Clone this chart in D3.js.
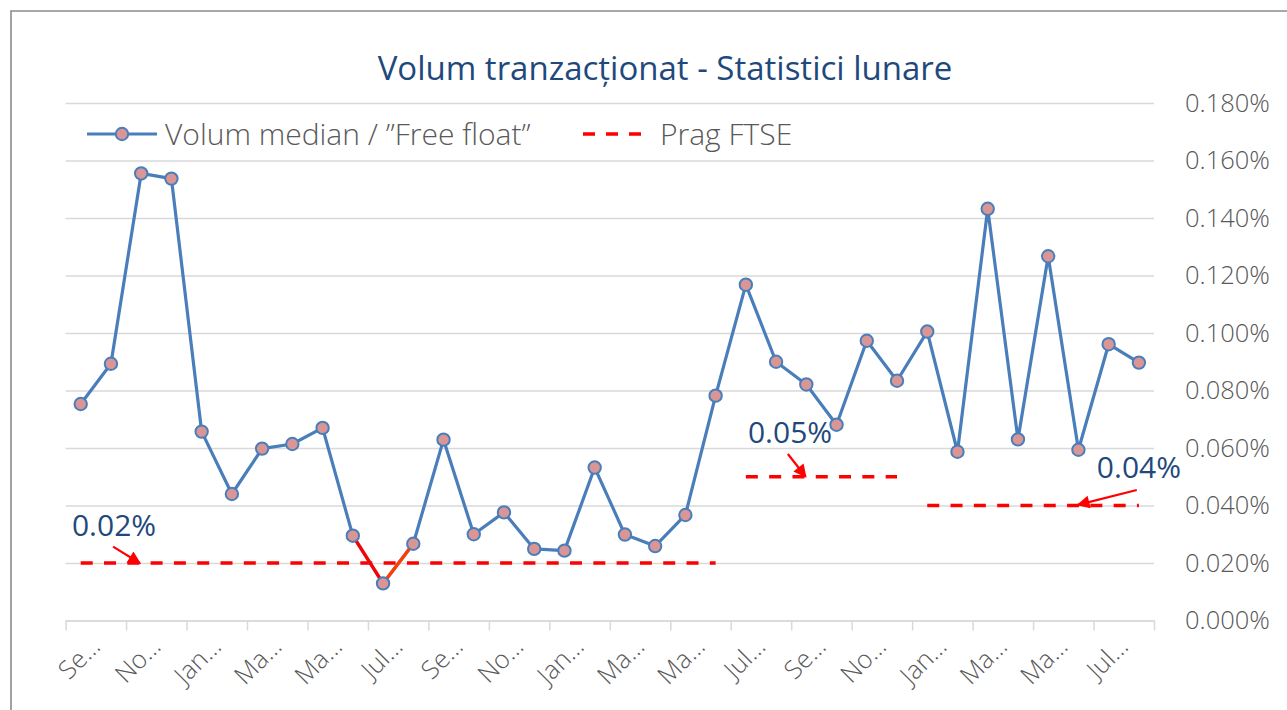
<!DOCTYPE html>
<html><head><meta charset="utf-8">
<script src="https://cdn.jsdelivr.net/npm/d3@7"></script>
<style>
html,body{margin:0;padding:0;background:#fff;}
svg{display:block;}
text{font-family:"Open Sans",sans-serif;font-weight:300;}
</style></head><body>
<svg id="chart" width="1287" height="710"></svg>
<script>
// ---------- DATA ----------
const months = ["Sep","Oct","Nov","Dec","Jan","Feb","Mar","Apr","May","Jun","Jul","Aug",
                "Sep","Oct","Nov","Dec","Jan","Feb","Mar","Apr","May","Jun","Jul","Aug",
                "Sep","Oct","Nov","Dec","Jan","Feb","Mar","Apr","May","Jun","Jul","Aug"];
const tickLabels = ["Se…","No…","Jan…","Ma…","Ma…","Jul…",
                    "Se…","No…","Jan…","Ma…","Ma…","Jul…",
                    "Se…","No…","Jan…","Ma…","Ma…","Jul…"];
// Volum median / "Free float" (in %)
const volumMedian = [0.0753,0.0893,0.1555,0.1537,0.0657,0.0440,0.0598,0.0614,0.0670,0.0295,0.0129,0.0267,
                     0.0629,0.0300,0.0376,0.0249,0.0243,0.0532,0.0299,0.0259,0.0367,0.0782,0.1168,0.0900,
                     0.0821,0.0681,0.0973,0.0834,0.1005,0.0587,0.1432,0.0630,0.1267,0.0594,0.0961,0.0897];
// Prag FTSE (in %)
const pragFTSE = [0.02,0.02,0.02,0.02,0.02,0.02,0.02,0.02,0.02,0.02,0.02,0.02,
                  0.02,0.02,0.02,0.02,0.02,0.02,0.02,0.02,0.02,0.02,0.05,0.05,
                  0.05,0.05,0.05,0.05,0.04,0.04,0.04,0.04,0.04,0.04,0.04,0.04];
// segments of the series drawn in highlight colours (below threshold)
const highlightSegments = [{from:9,to:10,color:"#FF0000"},{from:10,to:11,color:"#FF3D00"}];
const yTicks = [0,0.02,0.04,0.06,0.08,0.10,0.12,0.14,0.16,0.18];
// annotations: text at (cat, value), arrow from -> to in (cat, value)
const annotations = [
  {label:"0.02%", tc:-0.29, tv:0.0294, fc:1.07, fv:0.0257, ec:1.96, ev:0.0199},
  {label:"0.05%", tc:22.07, tv:0.0617, fc:23.39, fv:0.0579, ec:23.98, ev:0.0500},
  {label:"0.04%", tc:33.61, tv:0.0496, fc:34.93, fv:0.0454, ec:32.98, ev:0.0402}
];
const title = "Volum tranzacționat - Statistici lunare";
const legendNames = ["Volum median / ”Free float”","Prag FTSE"];

// ---------- LAYOUT ----------
const L = 65.6, R = 1154, T = 103, B = 620.5;
const blue = "#4A7EBB", marker = "#D99694", red = "#FF0000", dark = "#1F497D", grey = "#595959", grid = "#D9D9D9";

const svg = d3.select("#chart");
const xi = d3.scaleLinear().domain([0, months.length]).range([L, R]);
const cx = i => xi(i + 0.5);
const y = d3.scaleLinear().domain([0, 0.18]).range([B, T]);

// border
svg.append("path").attr("d", "M11,720 L11,11 L1300,11").attr("fill","none").attr("stroke","#8C8C8C").attr("stroke-width",1.6);

// gridlines
const gGrid = svg.append("g").attr("transform", `translate(${R},0)`)
  .call(d3.axisLeft(y).tickValues(yTicks).tickSize(R - L).tickFormat(""));
gGrid.select(".domain").remove();
gGrid.selectAll(".tick line").attr("stroke", grid).attr("stroke-width", 1.5);

// y labels (right)
const gY = svg.append("g").attr("transform", `translate(${R},0)`)
  .call(d3.axisRight(y).tickValues(yTicks).tickSize(0).tickPadding(31).tickFormat(d => d.toFixed(3) + "%"));
gY.select(".domain").remove();
gY.selectAll("text").attr("fill", grey).style("font-size","25.5px").style("font-family","'Open Sans',sans-serif").style("font-weight",300);

// x axis tick marks
const gX = svg.append("g").attr("transform", `translate(0,${B})`)
  .call(d3.axisBottom(xi).tickValues(d3.range(0, months.length + 1, 2)).tickSize(10).tickSizeOuter(0).tickFormat(""));
gX.select(".domain").attr("stroke", grid).attr("stroke-width", 1.5);
gX.selectAll(".tick line").attr("stroke", grid).attr("stroke-width", 1.5);

// x labels
svg.append("g").selectAll("text").data(tickLabels).join("text")
  .attr("transform", (d, k) => `translate(${cx(2 * k) + 21},648) rotate(-45)`)
  .attr("text-anchor", "end").attr("fill", grey).style("font-size", "25.5px")
  .text(d => d);

// FTSE threshold segments
const segs = [];
pragFTSE.forEach((v, i) => {
  if (i === 0 || v !== pragFTSE[i - 1]) segs.push({ v, start: i, end: i });
  else segs[segs.length - 1].end = i;
});
svg.append("g").selectAll("line").data(segs).join("line")
  .attr("x1", d => cx(d.start)).attr("x2", d => cx(d.end))
  .attr("y1", d => y(d.v)).attr("y2", d => y(d.v))
  .attr("stroke", red).attr("stroke-width", 3.5).attr("stroke-dasharray", "12,11.3");

// main line
const line = d3.line().x((d, i) => cx(i)).y(d => y(d));
svg.append("path").datum(volumMedian).attr("d", line)
  .attr("fill", "none").attr("stroke", blue).attr("stroke-width", 3.2).attr("stroke-linejoin", "round");
svg.append("g").selectAll("line").data(highlightSegments).join("line")
  .attr("x1", d => cx(d.from)).attr("y1", d => y(volumMedian[d.from]))
  .attr("x2", d => cx(d.to)).attr("y2", d => y(volumMedian[d.to]))
  .attr("stroke", d => d.color).attr("stroke-width", 3.2);
svg.append("g").selectAll("circle").data(volumMedian).join("circle")
  .attr("cx", (d, i) => cx(i)).attr("cy", d => y(d)).attr("r", 6.2)
  .attr("fill", marker).attr("stroke", blue).attr("stroke-width", 2);

// arrows
const defs = svg.append("defs");
defs.append("marker").attr("id", "arr").attr("viewBox", "0 0 10 10").attr("refX", 9).attr("refY", 5)
  .attr("markerUnits", "userSpaceOnUse").attr("markerWidth", 17).attr("markerHeight", 13).attr("orient", "auto")
  .append("path").attr("d", "M0,0 L10,5 L0,10 z").attr("fill", red);
const ax = c => xi(c + 0.5);
svg.append("g").selectAll("line").data(annotations).join("line")
  .attr("x1", d => ax(d.fc)).attr("y1", d => y(d.fv))
  .attr("x2", d => ax(d.ec)).attr("y2", d => y(d.ev))
  .attr("stroke", red).attr("stroke-width", 2.2).attr("marker-end", "url(#arr)");
svg.append("g").selectAll("text").data(annotations).join("text")
  .attr("x", d => ax(d.tc)).attr("y", d => y(d.tv))
  .attr("fill", dark).style("font-size", "30px").style("font-weight", 400).text(d => d.label);

// title
svg.append("text").attr("x", 665).attr("y", 80).attr("text-anchor", "middle")
  .attr("fill", dark).style("font-size", "33px").style("font-weight", 400).text(title);

// legend
const lg = svg.append("g");
lg.append("line").attr("x1", 87).attr("x2", 157).attr("y1", 134).attr("y2", 134).attr("stroke", blue).attr("stroke-width", 3.2);
lg.append("circle").attr("cx", 122).attr("cy", 134).attr("r", 6.2).attr("fill", marker).attr("stroke", blue).attr("stroke-width", 2);
lg.append("text").attr("x", 165).attr("y", 145).attr("fill", grey).style("font-size", "30px").text(legendNames[0]);
lg.append("line").attr("x1", 583).attr("x2", 645).attr("y1", 134).attr("y2", 134).attr("stroke", red).attr("stroke-width", 3.5).attr("stroke-dasharray", "12,11");
lg.append("text").attr("x", 660).attr("y", 145).attr("fill", grey).style("font-size", "30px").text(legendNames[1]);
</script>
</body></html>
